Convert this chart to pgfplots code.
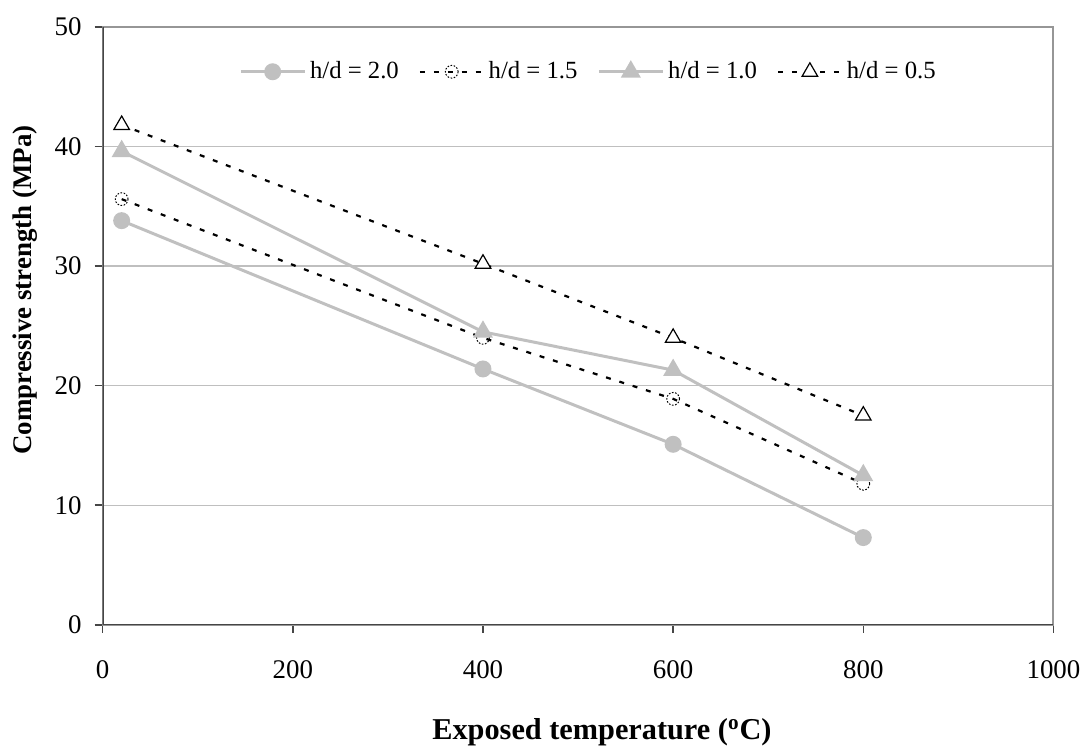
\documentclass[border=0pt]{standalone}
\usepackage{fontspec}
\setmainfont{Liberation Serif}
\usepackage{pgfplots}
\pgfplotsset{compat=1.18}
\definecolor{lgray}{RGB}{192,192,192}
\definecolor{grid}{RGB}{192,192,192}
\definecolor{frame}{RGB}{150,150,150}
\definecolor{axc}{RGB}{70,70,70}
\begin{document}
\begin{tikzpicture}
\begin{axis}[
    name=ax,
    scale only axis,
    width=477pt, height=300pt,
    xmin=0, xmax=1000, ymin=0, ymax=50,
    xtick={0,200,...,1000}, ytick={0,10,...,50},
    xtick pos=left, ytick pos=left,
    axis line style={frame, line width=1pt},
    tick style={axc, line width=0.8pt},
    tick align=outside, major tick length=4pt,
    xmajorgrids=false, ymajorgrids=true,
    grid style={grid, line width=0.7pt},
    /pgf/number format/assume math mode=true,
    /pgf/number format/set thousands separator={},
    ticklabel style={font=\fontsize{13.5}{15}\selectfont},
    xticklabel style={yshift=-10.5pt},
    yticklabel style={xshift=-3pt},
    xlabel={\textbf{Exposed temperature (\textsuperscript{o}C)}},
    ylabel={\textbf{Compressive strength (MPa)}},
    xlabel style={font=\fontsize{15.2}{17}\selectfont, yshift=-13pt, xshift=12pt},
    ylabel style={font=\fontsize{13.5}{16}\selectfont,
        at={(axis description cs:-0.0818,0.56)}, anchor=center},
    legend columns=4,
    legend style={draw=none, fill=none, at={(0.512,0.925)}, anchor=center,
        font=\fontsize{12.4}{14}\selectfont,
        /tikz/every even column/.append style={column sep=8pt}},
    legend image code/.code={
        \draw[mark repeat=2,mark phase=2] plot coordinates {(0pt,0pt) (16pt,0pt) (32pt,0pt)};},
]
\addplot[lgray, line width=1.5pt, mark=*, mark size=3.5pt, mark options={fill=lgray, draw=lgray}]
coordinates {(20,33.8) (400,21.4) (600,15.1) (800,7.3)};
\addlegendentry{h/d = 2.0}
\addplot[black, line width=1.1pt, dash pattern=on 2.5pt off 4.5pt, mark=o, mark size=3.2pt, mark options={fill=white, black, line width=0.5pt, dash pattern=on 0.8pt off 0.8pt}]
coordinates {(20,35.6) (400,24.0) (600,18.9) (800,11.8)};
\addlegendentry{h/d = 1.5}
\addplot[lgray, line width=1.5pt, mark=triangle*, mark size=4.3pt, mark options={solid, fill=lgray, draw=lgray}]
coordinates {(20,39.6) (400,24.5) (600,21.3) (800,12.5)};
\addlegendentry{h/d = 1.0}
\addplot[black, line width=1.1pt, dash pattern=on 2.5pt off 4.5pt, mark=triangle*, mark size=4.5pt, mark options={solid, fill=white, draw=black, line width=0.6pt}]
coordinates {(20,41.8) (400,30.2) (600,24.0) (800,17.5)};
\addlegendentry{h/d = 0.5}
\draw[axc, line width=1pt] (rel axis cs:0,1) -- (rel axis cs:0,0) -- (rel axis cs:1,0);
\end{axis}
\path (ax.north) ++(0,13.5pt) (ax.east) ++(15pt,0) (ax.west) ++(-51.5pt,0);
\end{tikzpicture}
\end{document}
